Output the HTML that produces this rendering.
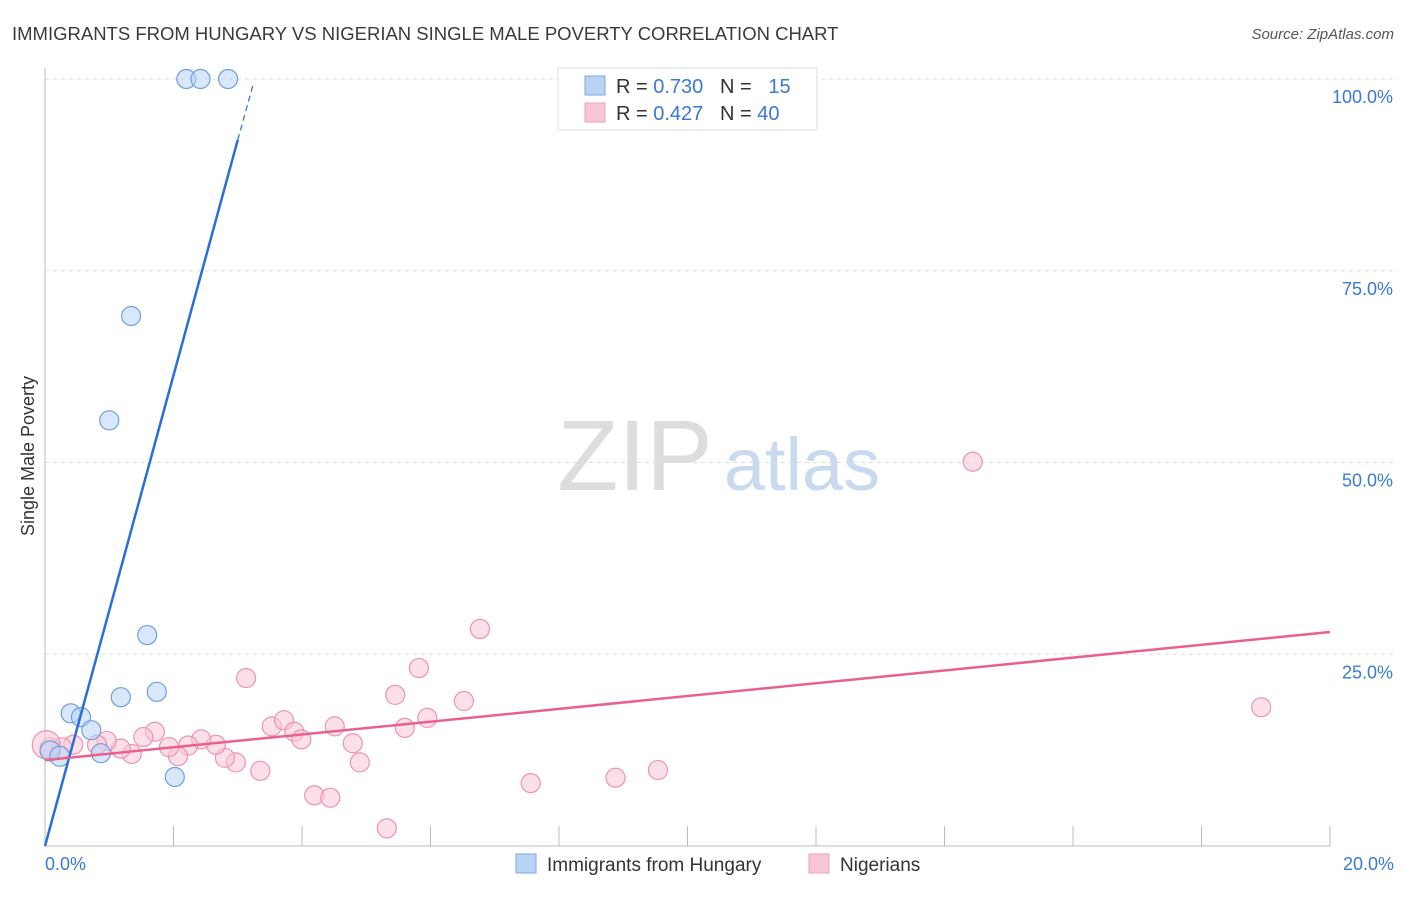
<!DOCTYPE html>
<html><head><meta charset="utf-8"><style>
body{margin:0;background:#fff;font-family:"Liberation Sans",sans-serif}
svg text{font-family:"Liberation Sans",sans-serif;white-space:pre}
</style></head><body>
<svg id="c" width="1406" height="892">
<text x="12" y="40" font-size="18.5" fill="#3a3a3a">IMMIGRANTS FROM HUNGARY VS NIGERIAN SINGLE MALE POVERTY CORRELATION CHART</text>
<text x="1394" y="39" font-size="15" fill="#555" text-anchor="end" font-style="italic">Source: ZipAtlas.com</text>
<text x="34" y="456" font-size="18" fill="#333" text-anchor="middle" transform="rotate(-90 34 456)">Single Male Poverty</text>
<g><text x="635" y="490" font-size="100" fill="#ddd" font-family="Liberation Serif" text-anchor="middle">ZIP</text><text x="802" y="490" font-size="74" fill="#c9d9f0" text-anchor="middle">atlas</text></g>
<g id="grid"></g><g id="marks"></g>
<g>
<rect x="558" y="68" width="259" height="62" fill="#fff" stroke="#ddd"/>
<rect x="585" y="76" width="20" height="19" fill="#b9d3f5" stroke="#7aa7e6"/>
<text x="616" y="93" font-size="20" fill="#333" xml:space="preserve">R = <tspan fill="#3a78d8">0.730</tspan>   N =  <tspan fill="#3a78d8"> 15</tspan></text>
<rect x="585" y="103" width="20" height="19" fill="#f9c6d6" stroke="#eea0b9"/>
<text x="616" y="120" font-size="20" fill="#333" xml:space="preserve">R = <tspan fill="#3a78d8">0.427</tspan>   N = <tspan fill="#3a78d8">40</tspan></text>
</g>
<g>
<rect x="516" y="854" width="20" height="19" fill="#b9d3f5" stroke="#7aa7e6"/>
<text x="547" y="871" font-size="19" fill="#333">Immigrants from Hungary</text>
<rect x="809" y="854" width="20" height="19" fill="#f9c6d6" stroke="#eea0b9"/>
<text x="840" y="871" font-size="19" fill="#333">Nigerians</text>
</g>
</svg>
<script>
const yTicks=[100,75,50,25];
const xTickLabels=["0.0%","20.0%"];
const hungaryX=[2.2,2.42,2.85,1.34,1.0,1.59,1.18,1.74,0.4,0.56,0.72,0.87,2.02,0.08,0.23];
const hungaryY=[100,100,100,69.1,55.5,27.5,19.4,20.1,17.3,16.8,15.1,12.1,9.0,12.4,11.7];
const nigeriaX=[3.13,3.53,3.72,3.88,3.99,4.51,4.79,4.9,5.45,5.6,5.82,5.95,6.52,6.77,7.56,8.88,9.54,14.44,18.93,5.32,4.19,4.44,3.35,2.97,2.8,2.66,2.43,2.23,2.07,1.93,1.71,1.53,1.35,1.18,0.96,0.81,0.44,0.26,0.08,0.02];
const nigeriaY=[21.9,15.6,16.4,14.9,13.9,15.6,13.4,10.9,19.7,15.4,23.2,16.7,18.9,28.3,8.2,8.9,9.9,50.1,18.1,2.3,6.6,6.3,9.8,10.9,11.5,13.2,13.9,13.1,11.7,12.9,14.9,14.2,12.0,12.7,13.7,13.2,13.2,12.8,12.8,13.2];
const blueLine=[[0,0],[3.0,92.05],[3.25,99.6]];
const pinkLine=[[0,11.2],[20,27.9]];
const X=v=>45+v/20*1285, Y=v=>846-v/100*767;
const NS="http://www.w3.org/2000/svg";
function mk(p,t,a){const e=document.createElementNS(NS,t);for(const k in a)e.setAttribute(k,a[k]);p.appendChild(e);return e;}
const g=document.getElementById('grid'),m=document.getElementById('marks');
yTicks.forEach(t=>{
 const l=mk(g,'line',{x1:45,x2:1394,y1:Y(t),y2:Y(t),stroke:'#ddd','stroke-dasharray':'4,4'});
 
 
 const tx=mk(g,'text',{x:1393,y:Y(t)+24,'font-size':18,fill:'#3a78d8','text-anchor':'end'});tx.textContent=t.toFixed(1)+'%';
 
 
});
const ax=mk(g,'line',{x1:45,x2:45,y1:68,y2:846,stroke:'#bbb'});


const bx=mk(g,'line',{x1:45,x2:1330,y1:846,y2:846,stroke:'#bbb'});


for(let i=1;i<=10;i++){const t=mk(g,'line',{x1:X(i*2),x2:X(i*2),y1:826,y2:846,stroke:'#bbb'});
 
 }
[[0,'start',45],[20,'end',1394]].forEach((d,i)=>{const t=mk(g,'text',{x:d[2],y:870,'font-size':18,fill:'#3a78d8','text-anchor':d[1]});t.textContent=xTickLabels[i];
 
 });
function pts(xs,ys,fill,stroke,name){xs.forEach((x,i)=>{const r=(x<0.3)?(i%3==0?14:10):9.5;
 const c=mk(m,'circle',{cx:X(x),cy:Y(ys[i]),r:r,fill:fill,'fill-opacity':0.55,stroke:stroke,'stroke-width':1.2});
 
 });}
pts(nigeriaX,nigeriaY,'#f9c6d6','#eb94b1','nigerian-point');
pts(hungaryX,hungaryY,'#b9d3f5','#6e9ee0','hungary-point');
const bl=mk(m,'line',{x1:X(blueLine[0][0]),y1:Y(blueLine[0][1]),x2:X(blueLine[1][0]),y2:Y(blueLine[1][1]),stroke:'#2a6ed6','stroke-width':2.5});


const bd=mk(m,'line',{x1:X(blueLine[1][0]),y1:Y(blueLine[1][1]),x2:X(blueLine[2][0]),y2:Y(blueLine[2][1]),stroke:'#2a6ed6','stroke-width':1.2,'stroke-dasharray':'6,4'});


const pl=mk(m,'line',{x1:X(pinkLine[0][0]),y1:Y(pinkLine[0][1]),x2:X(pinkLine[1][0]),y2:Y(pinkLine[1][1]),stroke:'#e8618c','stroke-width':2.5});


</script>
</body></html>
